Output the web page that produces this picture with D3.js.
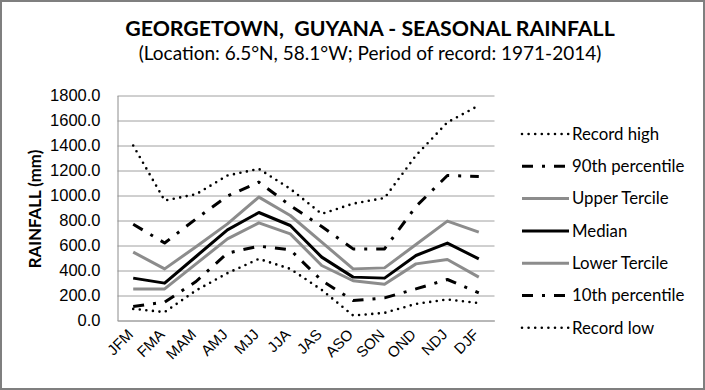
<!DOCTYPE html>
<html>
<head>
<meta charset="utf-8">
<script src="https://cdn.jsdelivr.net/npm/d3@7"></script>
<style>
  html, body { margin: 0; padding: 0; background: #fff; }
  svg { display: block; font-family: Lato, "Open Sans", sans-serif; }
</style>
</head>
<body>
<svg id="chart" width="705" height="390"></svg>
<script>
const seasons = ["JFM","FMA","MAM","AMJ","MJJ","JJA","JAS","ASO","SON","OND","NDJ","DJF"];
const yTicks = [0, 200, 400, 600, 800, 1000, 1200, 1400, 1600, 1800];
const recordHigh = [1400, 960, 1010, 1160, 1213, 1053, 853, 935, 980, 1320, 1585, 1720];
const p90        = [770, 620, 813, 995, 1107, 920, 752, 573, 573, 912, 1160, 1152];
const upperTerc  = [547, 413, 590, 773, 987, 840, 627, 413, 421, 608, 795, 707];
const median     = [339, 299, 512, 725, 864, 760, 507, 347, 339, 520, 619, 493];
const lowerTerc  = [253, 253, 453, 653, 781, 693, 440, 318, 290, 453, 488, 347];
const p10        = [112, 147, 312, 539, 595, 565, 320, 160, 181, 253, 328, 221];
const recordLow  = [93, 67, 240, 379, 493, 413, 245, 40, 61, 133, 168, 139];
const seriesNames = ["Record high","90th percentile","Upper Tercile","Median","Lower Tercile","10th percentile","Record low"];

const styles = {
  dot:   {stroke: "#000", width: 2.6, dash: "0 6.6", cap: "round"},
  dashdot: {stroke: "#000", width: 3, dash: "11 9 3 9", cap: "butt"},
  gray:  {stroke: "#8c8c8c", width: 3, dash: null, cap: "butt"},
  black: {stroke: "#000", width: 3, dash: null, cap: "butt"}
};
const series = [
  {name: seriesNames[0], values: recordHigh, st: styles.dot},
  {name: seriesNames[1], values: p90, st: styles.dashdot},
  {name: seriesNames[2], values: upperTerc, st: styles.gray},
  {name: seriesNames[3], values: median, st: styles.black},
  {name: seriesNames[4], values: lowerTerc, st: styles.gray},
  {name: seriesNames[5], values: p10, st: styles.dashdot},
  {name: seriesNames[6], values: recordLow, st: styles.dot}
];

const svg = d3.select("#chart");
const W = 705, H = 390;
svg.append("rect").attr("x", 1).attr("y", 1).attr("width", W - 2).attr("height", H - 2)
  .attr("fill", "#fff").attr("stroke", "#7f7f7f").attr("stroke-width", 2);

const pL = 117.5, pR = 494.5, pT = 95.5, pB = 320.5;
const x = d3.scaleBand().domain(seasons).range([pL, pR]).padding(0);
const y = d3.scaleLinear().domain([0, 1800]).range([pB, pT]);
const cx = d => x(d) + x.bandwidth() / 2;

const grid = d3.axisLeft(y).tickValues(yTicks).tickSize(-(pR - pL)).tickFormat("");
const gg = svg.append("g").attr("transform", `translate(${pL},0)`).call(grid);
gg.select(".domain").remove();
gg.selectAll("line").attr("stroke", "#a0a0a0").attr("stroke-width", 1);

const yAxis = d3.axisLeft(y).tickValues(yTicks).tickFormat(d3.format(".1f")).tickSize(0).tickPadding(17);
const gy = svg.append("g").attr("transform", `translate(${pL},0)`).call(yAxis);
gy.select(".domain").attr("stroke", "#8c8c8c").attr("stroke-width", 1);
gy.selectAll("text").attr("font-size", 16.5).attr("fill", "#000");

const xAxis = d3.axisBottom(x).tickSize(0).tickPadding(0);
const gx = svg.append("g").attr("transform", `translate(0,${pB})`).call(xAxis);
gx.select(".domain").attr("stroke", "#a0a0a0");
gx.selectAll("text")
  .attr("font-size", 15).attr("fill", "#000")
  .attr("text-anchor", "end")
  .attr("dy", null)
  .attr("transform", "translate(1,15) rotate(-45)");

const line = d3.line().x((d, i) => cx(seasons[i])).y(d => y(d));
series.forEach(s => {
  svg.append("path").datum(s.values)
    .attr("d", line)
    .attr("fill", "none")
    .attr("stroke", s.st.stroke)
    .attr("stroke-width", s.st.width)
    .attr("stroke-dasharray", s.st.dash)
    .attr("stroke-linecap", s.st.cap)
    .attr("stroke-linejoin", "round");
});

const lg = svg.append("g");
series.forEach((s, i) => {
  const yy = 134 + i * 32.3;
  lg.append("line").attr("x1", 522).attr("x2", 569).attr("y1", yy).attr("y2", yy)
    .attr("stroke", s.st.stroke).attr("stroke-width", s.st.width)
    .attr("stroke-dasharray", s.st.dash).attr("stroke-linecap", s.st.cap);
  lg.append("text").attr("x", 572).attr("y", yy).attr("dy", "0.35em")
    .attr("font-size", 16.8).attr("fill", "#000").text(s.name);
});

svg.append("text").attr("x", 370).attr("y", 36).attr("text-anchor", "middle")
  .attr("font-size", 21.3).attr("font-weight", "bold").attr("fill", "#000")
  .style("white-space", "pre")
  .text("GEORGETOWN,  GUYANA - SEASONAL RAINFALL");
svg.append("text").attr("x", 370).attr("y", 59.5).attr("text-anchor", "middle")
  .attr("font-size", 19).attr("fill", "#000")
  .text("(Location: 6.5°N, 58.1°W; Period of record: 1971-2014)");
svg.append("text").attr("transform", "translate(41,209) rotate(-90)")
  .attr("text-anchor", "middle").attr("font-size", 16.8).attr("font-weight", "bold")
  .attr("fill", "#000").text("RAINFALL (mm)");
</script>
</body>
</html>
